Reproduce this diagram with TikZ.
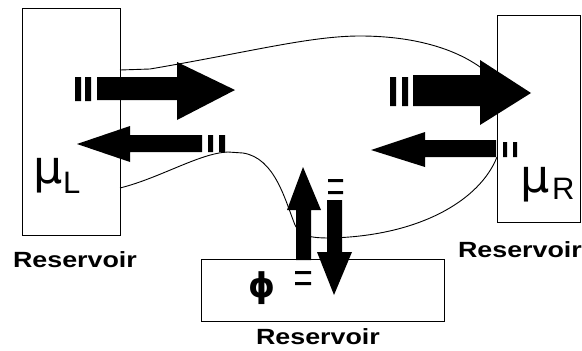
\documentclass[tikz,border=0pt]{standalone}
\usepackage{fontspec}
\setmainfont{Liberation Sans}
\newfontfamily\greekfont{DejaVu Sans}
\begin{document}
\begin{tikzpicture}[x=1pt,y=-1pt,
  box/.style={draw, line width=1pt, inner sep=0pt, outer sep=0pt},
  wire/.style={line width=0.9pt},
  fat/.style={fill=black, draw=none},
  tag/.style={font=\bfseries\fontsize{22}{22}\selectfont, xscale=1.22, inner sep=0pt},
  mu/.style={font=\greekfont\fontsize{46}{46}\selectfont, inner sep=0pt, anchor=base west},
  sub/.style={font=\fontsize{31}{31}\selectfont, inner sep=0pt, anchor=base west}]
\useasboundingbox (0,0) rectangle (582,351);

% the three reservoirs
\node[box, minimum width=98pt, minimum height=227pt] (L) at (71,121.5) {};
\node[box, minimum width=83pt, minimum height=207pt] (R) at (538.5,118.5) {};
\node[box, minimum width=243pt, minimum height=62pt] (B) at (322.5,290) {};

% outline of the scattering region between the reservoirs
\draw[wire] (L.east |- 0,70) -- (150,69)
  .. controls (250,52) and (310,36) .. (360,36)
  .. controls (420,36) and (470,52) .. (R.west |- 0,82);
\draw[wire] (L.east |- 0,188)
  .. controls (160,178) and (200,153) .. (228,152) -- (243,153)
  .. controls (275,158) and (285,200) .. (295,225)
  .. controls (300,236) and (310,238) .. (330,238)
  .. controls (420,236) and (480,200) .. (R.west |- 0,157);

% incoming and outgoing currents
\fill[fat] (97,77) -- (177,77) -- (177,62) -- (235,90) -- (177,120) -- (177,100) -- (97,100) -- cycle;
\fill[fat] (202,135) -- (130,135) -- (130,126) -- (77,144) -- (130,162) -- (130,152) -- (202,152) -- cycle;
\fill[fat] (413,75) -- (480,75) -- (480,60) -- (531,93) -- (480,125) -- (480,106) -- (413,106) -- cycle;
\fill[fat] (496,140) -- (425,140) -- (425,132) -- (371,150) -- (425,167) -- (425,157) -- (496,157) -- cycle;
\fill[fat] (296,260) -- (296,210) -- (287,210) -- (303,167) -- (321,210) -- (311,210) -- (311,260) -- cycle;
\fill[fat] (327,200) -- (327,252) -- (317,252) -- (334,295) -- (352,252) -- (342,252) -- (342,200) -- cycle;

% double bars marking each current
\fill[fat] (75,77) rectangle (81,101) (85,77) rectangle (91,101);
\fill[fat] (208,135) rectangle (213,152) (219,135) rectangle (225,152);
\fill[fat] (390,77) rectangle (396,106) (402,77) rectangle (408,106);
\fill[fat] (503,142) rectangle (507,157) (513,142) rectangle (517,157);
\fill[fat] (295,271) rectangle (311,274) (295,282) rectangle (311,285);
\fill[fat] (328,179) rectangle (343,182) (328,191) rectangle (343,194);

% chemical potentials and voltage
\node[mu] (muL) at (33,183) {μ};
\node[sub] (subL) at (63,193) {L};
\node[mu] (muR) at (520,192) {μ};
\node[sub] (subR) at (552,199) {R};
\node[font=\greekfont\bfseries\fontsize{34}{34}\selectfont, inner sep=0pt] (phi) at (262,288) {ϕ};

% labels
\node[tag] (tL) at (75,260) {Reservoir};
\node[tag] (tR) at (520,250) {Reservoir};
\node[tag] (tB) at (318,337) {Reservoir};
\end{tikzpicture}
\end{document}
